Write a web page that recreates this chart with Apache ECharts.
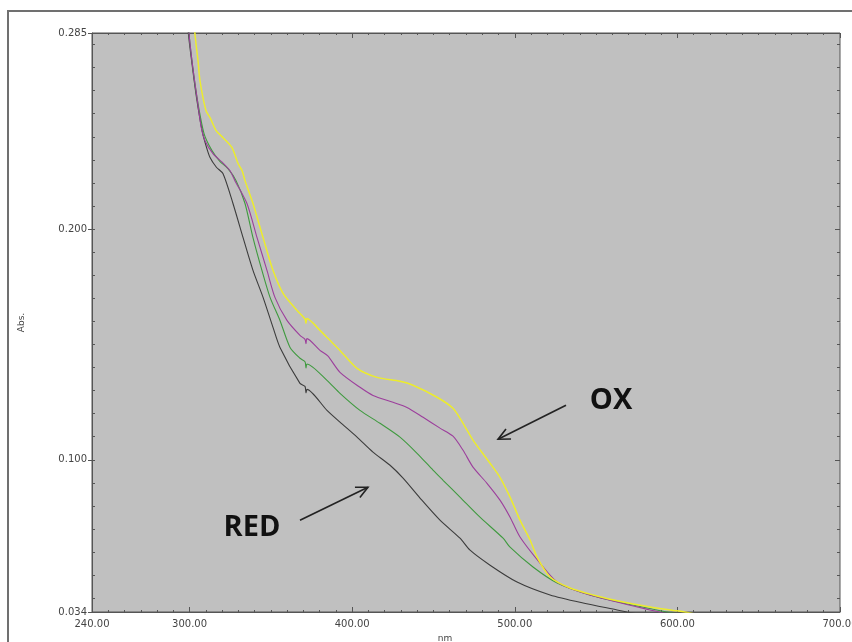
<!DOCTYPE html>
<html>
<head>
<meta charset="utf-8">
<script src="https://cdn.jsdelivr.net/npm/echarts@6/dist/echarts.min.js"></script>
<style>
  html, body { margin: 0; padding: 0; background: #fff; }
  #main { width: 852px; height: 642px; }
</style>
</head>
<body>
<div id="main"></div>
<script>
// spectra: [wavelength nm, absorbance]
var yellowSpectrum = [[302.5,0.295],[303.3,0.2846],[305.2,0.2730],[306.4,0.2643],[310.1,0.2513],[312.6,0.2483],[316.3,0.2427],[320.6,0.2396],[326.1,0.2353],[329.8,0.2284],[332.3,0.2253],[334.1,0.2210],[339.0,0.2111],[345.2,0.1963],[351.3,0.1821],[357.5,0.1721],[366.1,0.1647],[371.0,0.1610],[371.6,0.1592],[372.2,0.1612],[380.2,0.1561],[386.0,0.1520],[392.5,0.1474],[403.0,0.1396],[415.3,0.1357],[429.4,0.1340],[437.4,0.1323],[452.2,0.1271],[462.0,0.1223],[468.2,0.1158],[474.3,0.1085],[484.8,0.0985],[490.9,0.0924],[497.1,0.0838],[503.2,0.0738],[509.4,0.0652],[513.7,0.0578],[521.7,0.0492],[534.0,0.0444],[548.1,0.0414],[566.6,0.0383],[583.2,0.0362],[599.8,0.0345],[606.0,0.0338],[612.0,0.0330]];
var purpleSpectrum = [[299.0,0.295],[299.7,0.2846],[302.0,0.2700],[304.6,0.2569],[307.2,0.2440],[309.5,0.2383],[314.4,0.2327],[320.0,0.2290],[324.9,0.2253],[327.9,0.2210],[335.3,0.2111],[341.5,0.1963],[347.6,0.1821],[352.5,0.1704],[359.9,0.1604],[367.9,0.1539],[371.0,0.1522],[371.6,0.1503],[372.2,0.1525],[380.2,0.1474],[385.0,0.1450],[392.5,0.1379],[404.8,0.1314],[412.8,0.1279],[425.1,0.1249],[433.7,0.1227],[443.6,0.1184],[454.0,0.1137],[462.0,0.1102],[468.2,0.1041],[474.3,0.0968],[482.9,0.0898],[490.9,0.0825],[497.1,0.0751],[503.2,0.0665],[515.5,0.0552],[526.0,0.0470],[542.0,0.0422],[562.9,0.0383],[583.2,0.0349],[591.2,0.0336],[597.0,0.0330]];
var greenSpectrum = [[299.0,0.295],[299.7,0.2846],[302.0,0.2700],[304.6,0.2569],[308.9,0.2414],[313.8,0.2340],[318.5,0.2295],[323.6,0.2262],[328.6,0.2210],[334.1,0.2111],[339.0,0.1963],[344.5,0.1821],[349.5,0.1704],[355.6,0.1604],[361.8,0.1487],[367.9,0.1440],[371.0,0.1425],[371.6,0.1398],[372.2,0.1415],[384.5,0.1344],[392.5,0.1288],[404.8,0.1214],[417.1,0.1158],[429.4,0.1098],[439.9,0.1028],[449.7,0.0955],[455.9,0.0911],[466.3,0.0838],[478.6,0.0751],[492.8,0.0660],[497.1,0.0621],[511.2,0.0535],[526.0,0.0466],[546.3,0.0414],[566.6,0.0379],[593.6,0.0340],[600.0,0.0332]];
var blackSpectrum = [[298.5,0.295],[299.3,0.2846],[301.8,0.2700],[304.3,0.2569],[307.7,0.2427],[310.1,0.2362],[312.6,0.2310],[316.5,0.2268],[320.6,0.2240],[326.7,0.2111],[332.9,0.1963],[339.0,0.1821],[345.2,0.1704],[351.3,0.1574],[355.6,0.1487],[367.9,0.1331],[371.0,0.1318],[371.6,0.1290],[372.2,0.1305],[384.5,0.1214],[392.5,0.1163],[403.0,0.1098],[412.8,0.1033],[423.3,0.0976],[431.3,0.0920],[441.7,0.0834],[454.0,0.0738],[466.3,0.0660],[472.5,0.0608],[484.8,0.0543],[501.4,0.0470],[521.7,0.0414],[542.0,0.0379],[562.9,0.0349],[569.0,0.0340],[575.0,0.0332]];

// tick labels
var xLabelValues = [240, 300, 400, 500, 600, 700];
var xMajorTicks = [300, 400, 500, 600, 700];
var yLabelValues = [0.034, 0.100, 0.200, 0.285];

// minor ticks every 10 nm / every 0.01 abs
var xMinorTicks = [];
for (var t = 250; t < 700; t += 10) xMinorTicks.push(t);
var yMinorTicks = [];
for (var k = 4; k <= 28; k++) yMinorTicks.push(k / 100);

// annotations in data coords
var labels = [
  { text: 'OX', at: [559.2, 0.1258] },
  { text: 'RED', at: [338.4, 0.0704] }
];
var arrows = [
  { from: [531.5, 0.1236], to: [489.7, 0.1089] },
  { from: [367.9, 0.0738], to: [409.7, 0.0881] }
];

var font = 'DejaVu Sans';
var axisColor = '#555';

function xAx(pos, main) {
  return {
    type: 'value', position: pos, min: 240, max: 700,
    name: main && pos === 'bottom' ? 'nm' : '',
    nameLocation: 'middle', nameGap: 22,
    nameTextStyle: { fontSize: 9, color: '#444', fontFamily: font, padding: [0, 42, 0, 0] },
    axisLine: { show: main, lineStyle: { color: axisColor } },
    axisTick: { show: true, inside: true, length: main ? 5 : 2, customValues: main ? xMajorTicks : xMinorTicks, lineStyle: { color: axisColor } },
    axisLabel: { show: main && pos === 'bottom', customValues: xLabelValues, formatter: function (v) { return v.toFixed(2); }, fontSize: 10, color: '#444', fontFamily: font, margin: 7 },
    splitLine: { show: false }
  };
}

function yAx(pos, main, ticks, inside, len) {
  return {
    type: 'value', position: pos, min: 0.034, max: 0.285,
    name: main ? 'Abs.' : '', nameLocation: 'middle', nameRotate: 90, nameGap: 66,
    nameTextStyle: { fontSize: 9, color: '#444', fontFamily: font },
    axisLine: { show: main, lineStyle: { color: axisColor } },
    axisTick: { show: true, inside: inside, length: len, customValues: ticks, lineStyle: { color: axisColor } },
    axisLabel: { show: main, customValues: yLabelValues, formatter: function (v) { return v.toFixed(3); }, fontSize: 10, color: '#444', fontFamily: font, margin: 5 },
    splitLine: { show: false }
  };
}

function spectrum(name, data, color, width) {
  return {
    name: name, type: 'line', data: data, xAxisIndex: 0, yAxisIndex: 0,
    showSymbol: false, symbol: 'none', clip: true, smooth: 0.25,
    lineStyle: { color: color, width: width }
  };
}

var chart = echarts.init(document.getElementById('main'));
chart.setOption({
  animation: false,
  backgroundColor: '#fff',
  grid: {
    left: 92, right: 12, top: 33, bottom: 30,
    containLabel: false, outerBoundsMode: 'none',
    show: true, backgroundColor: '#c0c0c0', borderColor: '#555', borderWidth: 1
  },
  xAxis: [xAx('bottom', true), xAx('bottom', false), xAx('top', true), xAx('top', false)],
  yAxis: [
    yAx('left', true, yLabelValues, false, 4),
    yAx('left', false, yMinorTicks, true, 3),
    yAx('right', false, yMinorTicks, true, 3),
    yAx('right', false, [0.1, 0.2], true, 5)
  ],
  series: [
    spectrum('black', blackSpectrum, '#3c3c3c', 1.1),
    spectrum('green', greenSpectrum, '#3f9a3f', 1.1),
    spectrum('purple', purpleSpectrum, '#9c3f9c', 1.1),
    spectrum('yellow', yellowSpectrum, '#ecec2c', 1.5)
  ]
});

var finder = { xAxisIndex: 0, yAxisIndex: 0 };
var g = [{
  type: 'rect', silent: true, z: 100,
  shape: { x: 8, y: 11, width: 900, height: 700 },
  style: { fill: null, stroke: '#707070', lineWidth: 2 }
}];
labels.forEach(function (a) {
  var p = chart.convertToPixel(finder, a.at);
  g.push({
    type: 'text', x: p[0], y: p[1], z: 100,
    style: { text: a.text, fontSize: 29, fontWeight: 'bold', fontFamily: 'Open Sans', fill: '#111', align: 'center', verticalAlign: 'middle' }
  });
});
arrows.forEach(function (a) {
  var s = chart.convertToPixel(finder, a.from);
  var e = chart.convertToPixel(finder, a.to);
  var ang = Math.atan2(s[1] - e[1], s[0] - e[0]);
  var h = 13, spread = 0.45;
  var h1 = [e[0] + h * Math.cos(ang + spread), e[1] + h * Math.sin(ang + spread)];
  var h2 = [e[0] + h * Math.cos(ang - spread), e[1] + h * Math.sin(ang - spread)];
  g.push({ type: 'line', z: 100, shape: { x1: s[0], y1: s[1], x2: e[0], y2: e[1] }, style: { stroke: '#222', lineWidth: 1.6 } });
  g.push({ type: 'polyline', z: 100, shape: { points: [h1, e, h2] }, style: { stroke: '#222', lineWidth: 1.6, fill: null } });
});
chart.setOption({ graphic: g });
</script>
</body>
</html>
